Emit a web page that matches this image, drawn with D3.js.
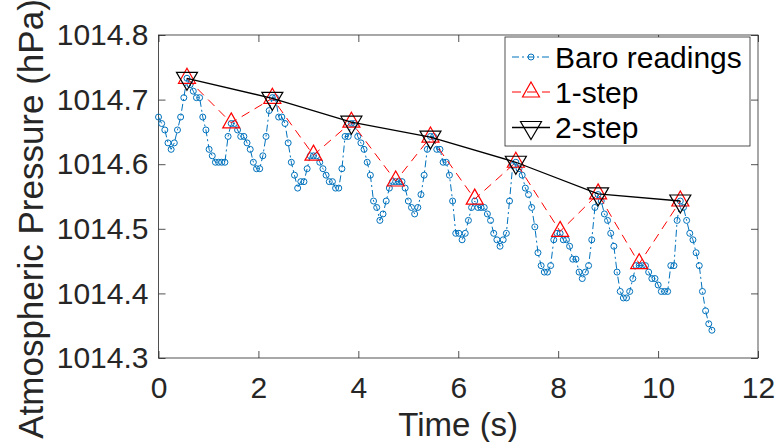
<!DOCTYPE html>
<html><head><meta charset="utf-8">
<script src="https://cdn.jsdelivr.net/npm/d3@7"></script>
<style>
body{margin:0;background:#fff}
svg{display:block}
text{font-family:"Liberation Sans",Arial,Helvetica,sans-serif;fill:#262626}
</style>
</head><body>
<svg id="c" width="775" height="442"></svg>
<script>
// ---- data ----
const sampleInterval = 0.0633; // seconds between barometer readings
const baroReadings = [
1014.673,1014.663,1014.653,1014.633,1014.623,1014.633,1014.653,1014.673,1014.703,1014.733,
1014.723,1014.713,1014.703,1014.703,1014.673,1014.653,1014.623,1014.613,1014.603,1014.603,
1014.603,1014.603,1014.643,1014.663,1014.663,1014.653,1014.643,1014.643,1014.633,1014.623,
1014.603,1014.593,1014.593,1014.613,1014.643,1014.683,1014.703,1014.703,1014.673,1014.673,
1014.663,1014.633,1014.603,1014.583,1014.563,1014.573,1014.573,1014.593,1014.613,1014.613,
1014.613,1014.603,1014.593,1014.583,1014.573,1014.573,1014.563,1014.563,1014.593,1014.643,
1014.643,1014.663,1014.663,1014.643,1014.633,1014.623,1014.603,1014.583,1014.543,1014.533,
1014.513,1014.523,1014.543,1014.563,1014.573,1014.573,1014.573,1014.573,1014.563,1014.543,
1014.533,1014.523,1014.533,1014.553,1014.583,1014.623,1014.643,1014.643,1014.623,1014.623,
1014.603,1014.603,1014.583,1014.543,1014.493,1014.493,1014.483,1014.493,1014.513,1014.533,
1014.543,1014.533,1014.533,1014.533,1014.523,1014.513,1014.493,1014.483,1014.473,1014.483,
1014.493,1014.543,1014.598,1014.603,1014.593,1014.583,1014.563,1014.553,1014.533,1014.503,
1014.463,1014.443,1014.433,1014.433,1014.443,1014.483,1014.493,1014.493,1014.483,1014.483,
1014.473,1014.453,1014.453,1014.433,1014.423,1014.433,1014.443,1014.483,1014.533,1014.553,
1014.543,1014.523,1014.513,1014.493,1014.473,1014.433,1014.403,1014.393,1014.393,1014.403,
1014.423,1014.443,1014.443,1014.443,1014.443,1014.433,1014.423,1014.423,1014.413,1014.403,
1014.403,1014.403,1014.443,1014.443,1014.513,1014.543,1014.533,1014.513,1014.493,1014.483,
1014.463,1014.443,1014.403,1014.373,1014.353,1014.343
];
const oneStepTimes  = [0.570,1.456,2.279,3.102,3.861,4.748,5.444,6.330,7.153,8.039,8.799,9.622,10.445];
const oneStepValues = [1014.733,1014.664,1014.702,1014.614,1014.665,1014.574,1014.642,1014.546,1014.603,1014.496,1014.554,1014.446,1014.543];
const twoStepTimes  = [0.570,2.279,3.861,5.444,7.153,8.799,10.445];
const twoStepValues = [1014.733,1014.702,1014.665,1014.642,1014.603,1014.554,1014.543];
const xTicks = [0,2,4,6,8,10,12];
const yTicks = [1014.3,1014.4,1014.5,1014.6,1014.7,1014.8];
const legendLabels = ["Baro readings","1-step","2-step"];
const xLabel = "Time (s)";
const yLabel = "Atmospheric Pressure (hPa)";

// ---- layout ----
const L=158.5, R=758, T=35, B=358;
const axisColor = "#262626";
const blue = "#0072BD", red = "#FF0000", black = "#000000";
const svg = d3.select("#c");
const x = d3.scaleLinear().domain([0,12]).range([L,R]);
const y = d3.scaleLinear().domain([1014.3,1014.8]).range([B,T]);

const baro = baroReadings.map((v,i)=>({t:i*sampleInterval, v}));
const one = oneStepTimes.map((t,i)=>({t, v:oneStepValues[i]}));
const two = twoStepTimes.map((t,i)=>({t, v:twoStepValues[i]}));

// axes (box with inward ticks)
function styleAxis(g, labels){
  g.select(".domain").remove();
  g.selectAll(".tick line").attr("stroke",axisColor).attr("stroke-width",0.8);
  g.selectAll(".tick text").attr("fill",axisColor).style("font-size","30px")
   .style("font-family",'"Liberation Sans",Arial,Helvetica,sans-serif');
  if(!labels) g.selectAll(".tick text").remove();
}
svg.append("g").attr("transform",`translate(0,${B})`)
  .call(d3.axisBottom(x).tickValues(xTicks).tickSizeInner(-7).tickSizeOuter(0).tickPadding(19).tickFormat(d3.format("d")))
  .call(g=>styleAxis(g,true));
svg.append("g").attr("transform",`translate(0,${T})`)
  .call(d3.axisTop(x).tickValues(xTicks).tickSizeInner(-7).tickSizeOuter(0))
  .call(g=>styleAxis(g,false));
svg.append("g").attr("transform",`translate(${L},0)`)
  .call(d3.axisLeft(y).tickValues(yTicks).tickSizeInner(-7).tickSizeOuter(0).tickPadding(10).tickFormat(d3.format(".1f")))
  .call(g=>styleAxis(g,true));
svg.append("g").attr("transform",`translate(${R},0)`)
  .call(d3.axisRight(y).tickValues(yTicks).tickSizeInner(-7).tickSizeOuter(0))
  .call(g=>styleAxis(g,false));
svg.append("rect").attr("x",L).attr("y",T).attr("width",R-L).attr("height",B-T)
  .attr("fill","none").attr("stroke",axisColor).attr("stroke-width",0.8);

// axis labels
svg.append("text").attr("x",(L+R)/2).attr("y",436).attr("text-anchor","middle")
  .style("font-size","33px").text(xLabel);
svg.append("text").attr("transform",`translate(43,219) rotate(-90)`).attr("text-anchor","middle")
  .style("font-size","35px").text(yLabel);

// markers
const upTri = (w,h)=>`M0,${-2*h/3}L${w/2},${h/3}L${-w/2},${h/3}Z`;
const downTri = (w,h)=>`M0,${2*h/3}L${w/2},${-h/3}L${-w/2},${-h/3}Z`;
const line = d3.line().x(d=>x(d.t)).y(d=>y(d.v));

// Baro readings
svg.append("path").datum(baro).attr("d",line).attr("fill","none")
  .attr("stroke",blue).attr("stroke-width",1).attr("stroke-dasharray","7,3,2,3");
svg.append("g").selectAll("circle").data(baro).join("circle")
  .attr("cx",d=>x(d.t)).attr("cy",d=>y(d.v)).attr("r",3)
  .attr("fill","none").attr("stroke",blue).attr("stroke-width",1);

// 1-step
svg.append("path").datum(one).attr("d",line).attr("fill","none")
  .attr("stroke",red).attr("stroke-width",1).attr("stroke-dasharray","9,6");
svg.append("g").selectAll("path").data(one).join("path")
  .attr("transform",d=>`translate(${x(d.t)},${y(d.v)})`).attr("d",upTri(17,15))
  .attr("fill","none").attr("stroke",red).attr("stroke-width",1.2);

// 2-step
svg.append("path").datum(two).attr("d",line).attr("fill","none")
  .attr("stroke",black).attr("stroke-width",1.3);
svg.append("g").selectAll("path").data(two).join("path")
  .attr("transform",d=>`translate(${x(d.t)},${y(d.v)})`).attr("d",downTri(21,18))
  .attr("fill","none").attr("stroke",black).attr("stroke-width",1.2);

// legend
const lg = svg.append("g");
lg.append("rect").attr("x",505).attr("y",37).attr("width",245).attr("height",109)
  .attr("fill","#fff").attr("stroke",axisColor).attr("stroke-width",0.8);
const rowsY = [57,92,127.5];
const styles = [
  {c:blue, dash:"7,3,2,3", w:1, m:"circle"},
  {c:red, dash:"9,6", w:1, m:"up"},
  {c:black, dash:null, w:1.3, m:"down"}
];
legendLabels.forEach((lab,i)=>{
  const yy = rowsY[i], s = styles[i];
  lg.append("line").attr("x1",512).attr("x2",550).attr("y1",yy).attr("y2",yy)
    .attr("stroke",s.c).attr("stroke-width",s.w).attr("stroke-dasharray",s.dash);
  if(s.m==="circle") lg.append("circle").attr("cx",531).attr("cy",yy).attr("r",3)
    .attr("fill","none").attr("stroke",s.c);
  else lg.append("path").attr("transform",`translate(531,${yy})`)
    .attr("d", s.m==="up"?upTri(17,15):downTri(21,18))
    .attr("fill","none").attr("stroke",s.c).attr("stroke-width",1.2);
  lg.append("text").attr("x",555).attr("y",yy).attr("dy","0.36em")
    .style("font-size","30px").style("fill","#000").text(lab);
});
</script>
</body></html>
